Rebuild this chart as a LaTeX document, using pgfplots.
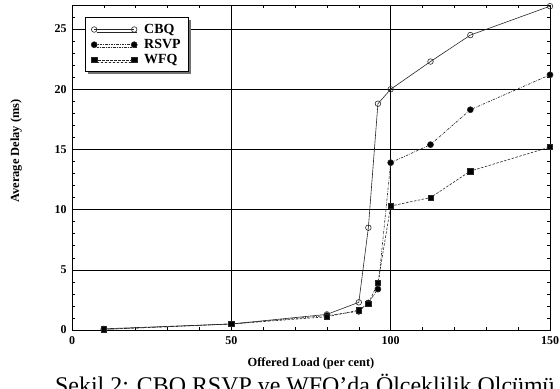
\documentclass[border=0pt]{standalone}
\usepackage{fontspec}
\setmainfont{Liberation Serif}
\usepackage{pgfplots}
\pgfplotsset{compat=1.18}
\usetikzlibrary{shadows}
\begin{document}
\begin{tikzpicture}[x=1bp,y=1bp]
\useasboundingbox (0,0) rectangle (560,388);
\begin{axis}[
  at={(72bp,58bp)}, anchor=south west,
  scale only axis, width=478bp, height=325bp,
  xmin=0, xmax=150, ymin=0, ymax=27,
  xtick={0,50,100,150}, ytick={0,5,10,15,20,25},
  minor xtick={10,20,30,40,60,70,80,90,110,120,130,140},
  minor ytick={1,2,3,4,6,7,8,9,11,12,13,14,16,17,18,19,21,22,23,24,26},
  tick align=inside,
  major tick length=5bp, minor tick length=3bp,
  xmajorgrids, ymajorgrids,
  major grid style={black, line width=0.6bp},
  axis line style={line width=0.7bp},
  every tick/.style={black, line width=0.5bp},
  tick label style={font=\fontsize{12}{14}\selectfont\bfseries},
  /pgf/number format/assume math mode=true,
  xticklabel style={yshift=-3bp},
  yticklabel style={xshift=-2bp},
  xlabel={Offered Load (per cent)},
  ylabel={Average Delay (ms)},
  label style={font=\fontsize{12.5}{14}\selectfont\bfseries},
  xlabel style={at={(axis description cs:0.5,-0.1015)}, anchor=center},
  ylabel style={at={(axis description cs:-0.117,0.551)}, anchor=center},
  legend cell align=left,
  legend style={at={(axis description cs:0.027,0.962)}, anchor=north west,
    draw=black, fill=white, line width=0.6bp,
    drop shadow={shadow xshift=2.5bp, shadow yshift=-2.5bp, fill=black!55, opacity=1},
    font=\fontsize{14}{16}\selectfont\bfseries,
    row sep=0.5bp, inner xsep=6bp, inner ysep=4.5bp,
    /tikz/every odd column/.append style={column sep=5bp}},
  legend image code/.code={\draw[#1] plot coordinates {(0bp,0bp) (40bp,0bp)};},
]
\addplot[black!85, line width=0.6bp, mark=o, mark size=2.8bp, mark options={solid, fill=white, line width=0.6bp}]
coordinates {(10,0.1)(50,0.5)(80,1.3)(90,2.3)(93,8.5)(96,18.8)(100,20)(112.5,22.3)(125,24.5)(150,26.9)};
\addlegendentry{CBQ}
\addplot[black!85, line width=0.6bp, dash pattern=on 2.5bp off 1.2bp on 0.6bp off 1.2bp, mark=*, mark size=3bp, mark options={solid, fill=black}]
coordinates {(10,0.05)(50,0.5)(80,1.2)(90,1.55)(93,2.25)(96,3.4)(100,13.9)(112.5,15.4)(125,18.3)(150,21.2)};
\addlegendentry{RSVP}
\addplot[black!85, line width=0.6bp, dash pattern=on 2.5bp off 1.5bp, mark=square*, mark size=2.7bp, mark options={solid, fill=black}]
coordinates {(10,0.05)(50,0.5)(80,1.1)(90,1.65)(93,2.2)(96,3.9)(100,10.3)(112.5,11.0)(125,13.2)(150,15.2)};
\addlegendentry{WFQ}
\end{axis}
\node[anchor=base west, font=\fontsize{24}{28}\selectfont, inner sep=0pt] at (55,-5) {Şekil 2: CBQ,RSVP ve WFQ'da Ölçeklilik Olçümü};
\end{tikzpicture}
\end{document}
